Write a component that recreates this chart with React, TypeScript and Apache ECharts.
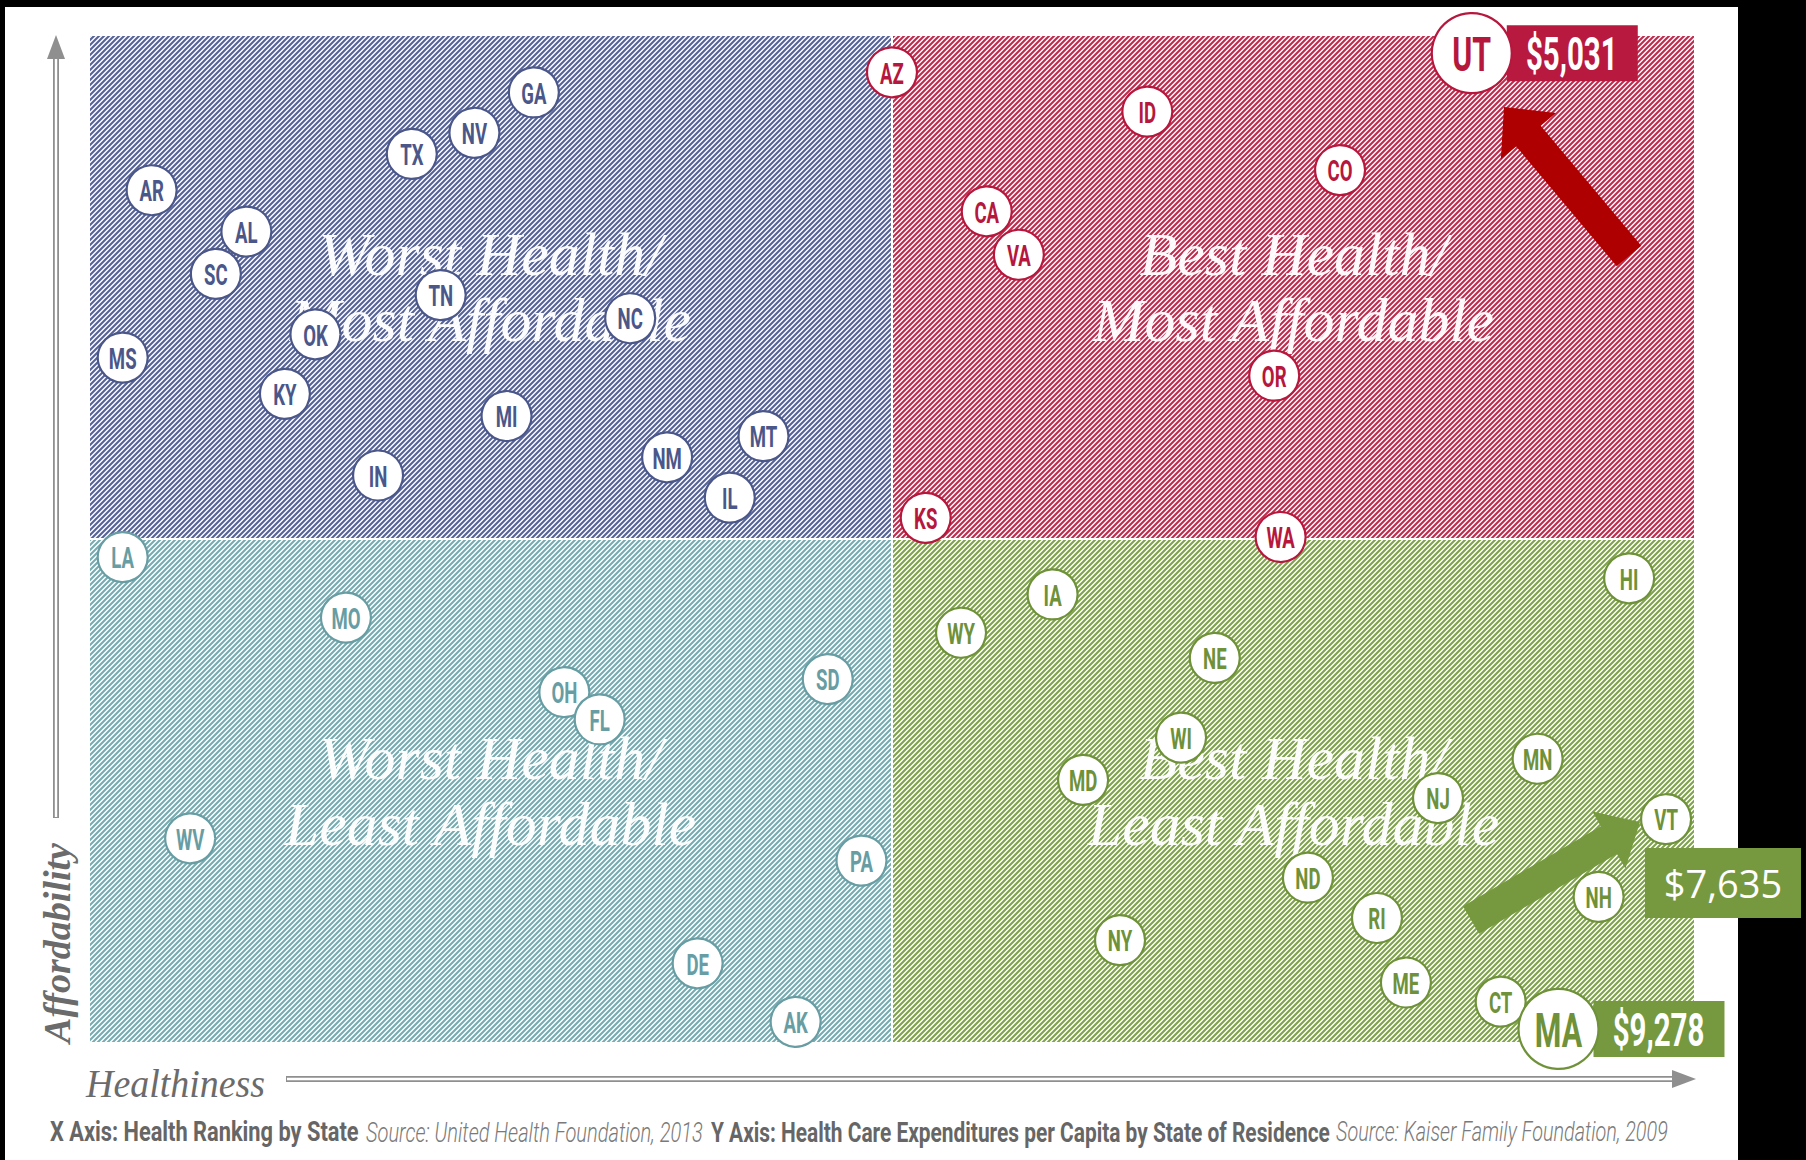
import React, { useEffect, useRef } from 'react';
import * as echarts from 'echarts';

const W = 1806;
const H = 1160;

// Rows: [state, healthiness position (0-100), affordability position (0-100), callout?]
const worstHealthMostAffordable: any[] = [
  ['AR', 3.9, 84.6], ['MS', 2.1, 68.0], ['SC', 7.9, 76.3], ['AL', 9.8, 80.5], ['KY', 12.2, 64.4],
  ['OK', 14.1, 70.3], ['IN', 18.0, 56.3], ['TX', 20.1, 88.2], ['TN', 21.9, 74.2], ['NV', 24.0, 90.3],
  ['MI', 26.0, 62.2], ['GA', 27.7, 94.3], ['NC', 33.7, 71.9], ['NM', 36.0, 58.1], ['IL', 39.9, 54.1],
  ['MT', 42.0, 60.2],
];
const bestHealthMostAffordable: any[] = [
  ['AZ', 50.0, 96.3], ['KS', 52.1, 52.1], ['CA', 55.9, 82.5], ['VA', 57.9, 78.2], ['ID', 65.9, 92.4],
  ['OR', 73.8, 66.2], ['WA', 74.2, 50.2], ['CO', 77.9, 86.6], ['UT', 86.1, 98.2, '$5,031'],
];
const worstHealthLeastAffordable: any[] = [
  ['LA', 2.1, 48.2], ['WV', 6.3, 20.3], ['MO', 16.0, 42.2], ['OH', 29.6, 34.8], ['FL', 31.8, 32.1],
  ['DE', 37.9, 7.9], ['AK', 44.0, 2.1], ['SD', 46.0, 36.1], ['PA', 48.1, 18.1],
];
const bestHealthLeastAffordable: any[] = [
  ['WY', 54.3, 40.7], ['IA', 60.0, 44.5], ['MD', 61.9, 26.1], ['NY', 64.2, 10.2], ['WI', 68.0, 30.3],
  ['NE', 70.1, 38.2], ['ND', 75.9, 16.4], ['RI', 80.2, 12.4], ['ME', 82.0, 6.0], ['NJ', 84.0, 24.3],
  ['CT', 87.9, 4.1], ['MN', 90.2, 28.2], ['MA', 91.5, 1.4, '$9,278'], ['NH', 94.0, 14.5],
  ['HI', 95.9, 46.1], ['VT', 98.2, 22.2],
];

const quadrantTitles = [
  'Worst Health/\nMost Affordable',
  'Best Health/\nMost Affordable',
  'Worst Health/\nLeast Affordable',
  'Best Health/\nLeast Affordable',
];
const quadrantXRange = [[0, 50], [50, 100], [0, 50], [50, 100]];
const quadrantYRange = [[50, 100], [50, 100], [0, 50], [0, 50]];

const vtCallout = '$7,635';
const xAxisName = 'Healthiness';
const yAxisName = 'Affordability';
const footerTexts = [
  'X Axis: Health Ranking by State',
  'Source: United Health Foundation, 2013',
  'Y Axis: Health Care Expenditures per Capita by State of Residence',
  'Source: Kaiser Family Foundation, 2009',
];

const STRIPE = ['#56639a', '#c22a4d', '#76abb1', '#80a24b'];
const INK = ['#4b5789', '#b5173d', '#679da3', '#6e9139'];
const BOX = ['#4b5789', '#b81a3f', '#679da3', '#76993f'];

function makePattern(color: string) {
  const s = 5;
  const c = document.createElement('canvas');
  c.width = s;
  c.height = s;
  const ctx = c.getContext('2d')!;
  ctx.fillStyle = '#ffffff';
  ctx.fillRect(0, 0, s, s);
  ctx.strokeStyle = color;
  ctx.lineWidth = 2.1;
  ctx.beginPath();
  ctx.moveTo(-1, s + 1); ctx.lineTo(s + 1, -1);
  ctx.moveTo(-2, 2); ctx.lineTo(2, -2);
  ctx.moveTo(s - 2, s + 2); ctx.lineTo(s + 2, s - 2);
  ctx.stroke();
  return { image: c, repeat: 'repeat', imageWidth: s, imageHeight: s } as any;
}

function arrowPoints(tip: number[], tail: number[], headLen: number, headHW: number, shaftHW: number) {
  const dx = tail[0] - tip[0];
  const dy = tail[1] - tip[1];
  const L = Math.hypot(dx, dy);
  const ux = dx / L, uy = dy / L;
  const nx = -uy, ny = ux;
  const bx = tip[0] + ux * headLen, by = tip[1] + uy * headLen;
  return [
    tip,
    [bx + nx * headHW, by + ny * headHW],
    [bx + nx * shaftHW, by + ny * shaftHW],
    [tail[0] + nx * shaftHW, tail[1] + ny * shaftHW],
    [tail[0] - nx * shaftHW, tail[1] - ny * shaftHW],
    [bx - nx * shaftHW, by - ny * shaftHW],
    [bx - nx * headHW, by - ny * headHW],
  ];
}

export default function App() {
  const ref = useRef<HTMLDivElement>(null);

  useEffect(() => {
    if (!ref.current) return;
    const chart = echarts.init(ref.current, null, { renderer: 'svg', width: W, height: H });

    const mctx = document.createElement('canvas').getContext('2d')!;
    const fit = (text: string, font: string, target: number) => {
      mctx.font = font;
      const w = mctx.measureText(text).width;
      return w > 0 ? target / w : 1;
    };

    const stateSeries = (rows: any[], qi: number) => ({
      type: 'custom',
      z: 5,
      silent: true,
      clip: false,
      data: rows.map((r) => [r[1], r[2]]),
      renderItem: (params: any, api: any) => {
        const row = rows[params.dataIndex];
        const p = api.coord([api.value(0), api.value(1)]);
        const big = !!row[3];
        const r = big ? 40 : 25;
        const children: any[] = [];
        if (big) {
          children.push({
            type: 'rect',
            shape: { x: p[0] + 35, y: p[1] - 28, width: 131, height: 56 },
            style: { fill: BOX[qi] },
          });
          children.push({
            type: 'text',
            x: p[0] + 100,
            y: p[1] + 1,
            scaleX: 0.64,
            style: {
              text: row[3], fill: '#ffffff', fontSize: 46, fontWeight: 'bold',
              fontFamily: 'Roboto', align: 'center', verticalAlign: 'middle',
            },
          });
        }
        children.push({
          type: 'circle',
          shape: { cx: p[0], cy: p[1], r },
          style: { fill: '#ffffff', stroke: INK[qi], lineWidth: 2.2 },
        });
        children.push({
          type: 'text',
          x: p[0],
          y: p[1] + 1,
          scaleX: 0.62,
          style: {
            text: row[0], fill: INK[qi], fontSize: big ? 49 : 30, fontWeight: 'bold',
            fontFamily: 'Roboto', align: 'center', verticalAlign: 'middle',
          },
        });
        return { type: 'group', children };
      },
    });

    const quadrantArea = quadrantTitles.map((title, i) => [
      {
        xAxis: quadrantXRange[i][0],
        yAxis: quadrantYRange[i][0],
        itemStyle: { color: makePattern(STRIPE[i]), borderColor: '#ffffff', borderWidth: 2 },
        label: {
          show: true,
          position: 'inside',
          formatter: title,
          color: 'rgba(255,255,255,0.96)',
          fontFamily: 'Liberation Serif',
          fontStyle: 'italic',
          fontSize: 62,
          lineHeight: 66,
        },
      },
      { xAxis: quadrantXRange[i][1], yAxis: quadrantYRange[i][1] },
    ]);

    const axisGray = '#8f8f8f';
    const hName = `italic 40px 'Liberation Serif'`;
    const vName = `italic bold 38px 'Liberation Serif'`;
    const footFonts = [
      `bold 28px Roboto`, `italic 300 28px Roboto`, `bold 28px Roboto`, `italic 300 28px Roboto`,
    ];
    const footX = [50, 366, 711, 1336];
    const footW = [309, 337, 619, 332];
    const footFill = ['#666666', '#7a7a7a', '#666666', '#7a7a7a'];

    const graphics: any[] = [
      { type: 'rect', z: -10, shape: { x: 5, y: 7, width: 1733, height: 1153 }, style: { fill: '#ffffff' } },
      // y axis arrow
      { type: 'line', z: 1, shape: { x1: 56, y1: 818, x2: 56, y2: 56 }, style: { stroke: axisGray, lineWidth: 6 } },
      { type: 'line', z: 1, shape: { x1: 56, y1: 817, x2: 56, y2: 57 }, style: { stroke: '#ffffff', lineWidth: 2.4 } },
      { type: 'polygon', z: 1, shape: { points: [[56, 35], [47, 59], [65, 59]] }, style: { fill: axisGray } },
      // x axis arrow
      { type: 'line', z: 1, shape: { x1: 286, y1: 1079, x2: 1676, y2: 1079 }, style: { stroke: axisGray, lineWidth: 6 } },
      { type: 'line', z: 1, shape: { x1: 287, y1: 1079, x2: 1675, y2: 1079 }, style: { stroke: '#ffffff', lineWidth: 2.4 } },
      { type: 'polygon', z: 1, shape: { points: [[1696, 1079], [1672, 1070], [1672, 1088]] }, style: { fill: axisGray } },
      {
        type: 'text', z: 1, x: 86, y: 1083, scaleX: fit(xAxisName, hName, 179),
        style: { text: xAxisName, font: hName, fill: '#6b6b6b', align: 'left', verticalAlign: 'middle' },
      },
      {
        type: 'text', z: 1, x: 57, y: 943, rotation: Math.PI / 2, scaleX: fit(yAxisName, vName, 200),
        style: { text: yAxisName, font: vName, fill: '#6b6b6b', align: 'center', verticalAlign: 'middle' },
      },
      // red arrow to UT
      {
        type: 'polygon', z: 10,
        shape: { points: arrowPoints([1504, 107], [1629, 256], 38, 36, 16) },
        style: { fill: '#ae0000' },
      },
      // green arrow to VT
      {
        type: 'polygon', z: 10,
        shape: { points: arrowPoints([1640, 822], [1471, 920], 36, 33, 16) },
        style: { fill: '#76993f' },
      },
      { type: 'rect', z: 10, shape: { x: 1645, y: 848, width: 156, height: 70 }, style: { fill: '#76993f' } },
      {
        type: 'text', z: 11, x: 1723, y: 883,
        style: {
          text: vtCallout, fill: '#ffffff', fontSize: 38, fontFamily: 'Open Sans',
          align: 'center', verticalAlign: 'middle',
        },
      },
    ];
    footerTexts.forEach((t, i) => {
      graphics.push({
        type: 'text', z: 1, x: footX[i], y: 1132, scaleX: fit(t, footFonts[i], footW[i]),
        style: { text: t, font: footFonts[i], fill: footFill[i], align: 'left', verticalAlign: 'middle' },
      });
    });

    chart.setOption({
      animation: false,
      backgroundColor: '#000000',
      grid: { left: 89, top: 35, width: 1606, height: 1008 },
      xAxis: { type: 'value', min: 0, max: 100, show: false },
      yAxis: { type: 'value', min: 0, max: 100, show: false },
      graphic: { elements: graphics },
      series: [
        {
          type: 'scatter',
          data: [],
          z: 1,
          silent: true,
          markArea: { silent: true, data: quadrantArea },
        },
        stateSeries(worstHealthMostAffordable, 0),
        stateSeries(bestHealthMostAffordable, 1),
        stateSeries(worstHealthLeastAffordable, 2),
        stateSeries(bestHealthLeastAffordable, 3),
      ],
    } as any);

    return () => chart.dispose();
  }, []);

  return <div ref={ref} style={{ position: 'absolute', left: 0, top: 0, width: W, height: H }} />;
}
